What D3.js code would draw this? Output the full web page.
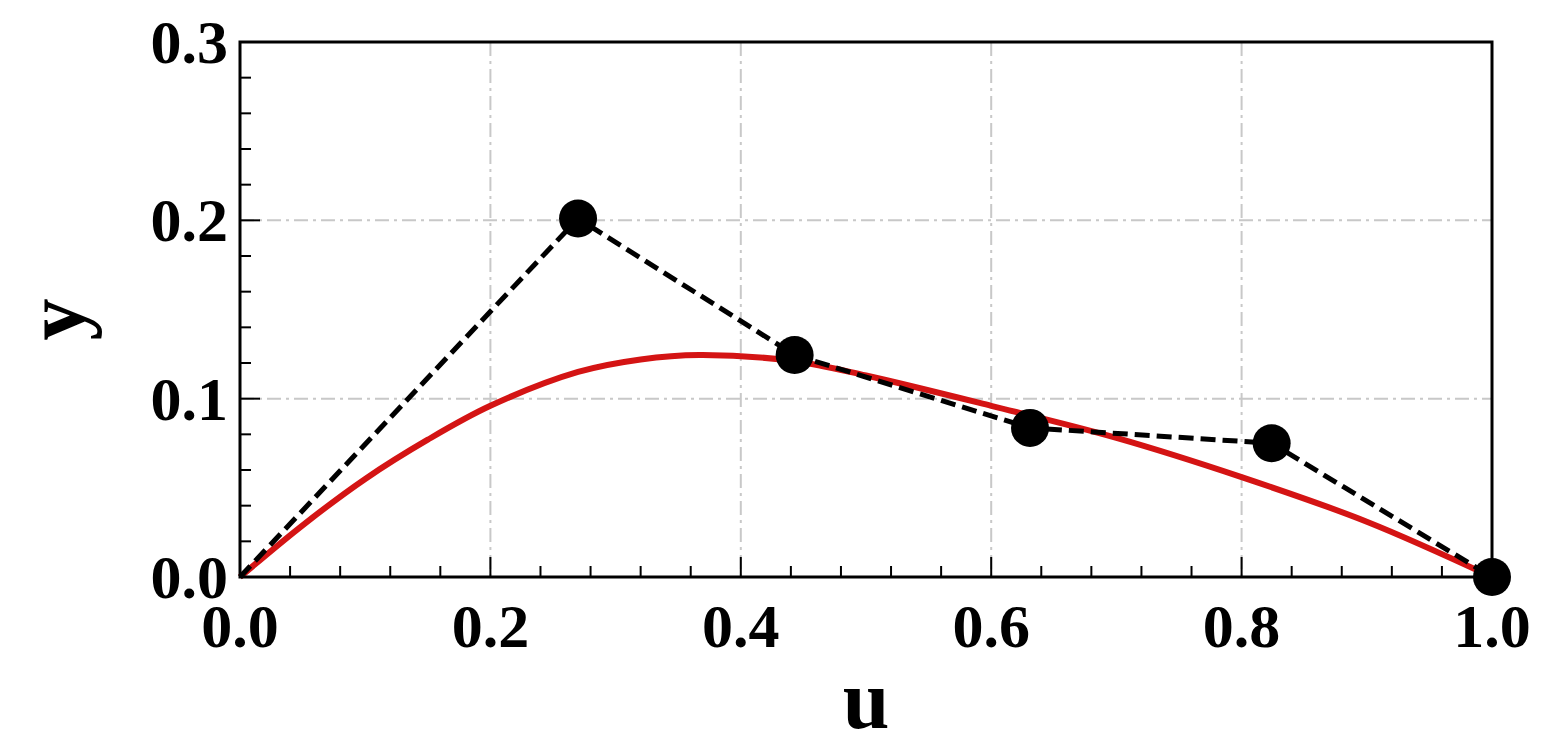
<!DOCTYPE html><html><head><script src="https://cdn.jsdelivr.net/npm/d3@7"></script>
<style>body{margin:0;background:#fff}</style></head><body><svg id="c" width="1550" height="750"></svg>
<script>
const ctrlU=[0,0.27,0.443,0.631,0.824,1.0];
const ctrlY=[0,0.201,0.1245,0.0836,0.075,0];
const markU=[0.27,0.443,0.631,0.824,1.0];
const markY=[0.201,0.1245,0.0836,0.075,0];
const curveU=[0,0.05,0.1,0.15,0.2,0.27,0.32,0.367,0.443,0.5,0.6,0.7,0.8,0.9,1.0];
const curveY=[0,0.029,0.055,0.077,0.096,0.115,0.122,0.1245,0.121,0.113,0.096,0.078,0.056,0.031,0];
const xTicks=[0,0.2,0.4,0.6,0.8,1.0];
const yTicks=[0,0.1,0.2,0.3];
const svg=d3.select("#c");
const L=240,R=1492,T=42,B=577;
const x=d3.scaleLinear([0,1],[L,R]), y=d3.scaleLinear([0,0.3],[B,T]);
const g=svg.append("g");
g.selectAll(".gx").data(xTicks.slice(1,-1)).join("line").attr("x1",x).attr("x2",x).attr("y1",T).attr("y2",B)
 .attr("stroke","#c8c8c8").attr("stroke-width",2).attr("stroke-dasharray","14,5,3,5");
g.selectAll(".gy").data(yTicks.slice(1,-1)).join("line").attr("y1",y).attr("y2",y).attr("x1",L).attr("x2",R)
 .attr("stroke","#c8c8c8").attr("stroke-width",2).attr("stroke-dasharray","14,5,3,5");
const minorX=d3.range(0,1.0001,0.04), minorY=d3.range(0,0.3001,0.02);
g.selectAll(".mx").data(minorX).join("line").attr("x1",x).attr("x2",x).attr("y1",B).attr("y2",d=>B-(Math.abs(d*5-Math.round(d*5))<1e-6?20:11)).attr("stroke","#000").attr("stroke-width",2);
g.selectAll(".my").data(minorY).join("line").attr("y1",y).attr("y2",y).attr("x1",L).attr("x2",d=>L+(Math.abs(d*10-Math.round(d*10))<1e-6?20:11)).attr("stroke","#000").attr("stroke-width",2);
const line=d3.line().x(d=>x(d[0])).y(d=>y(d[1]));
g.append("path").attr("d",d3.line().curve(d3.curveCatmullRom).x(d=>x(d[0])).y(d=>y(d[1]))(curveU.map((u,i)=>[u,curveY[i]])))
 .attr("fill","none").attr("stroke","#d41414").attr("stroke-width",6);
g.append("path").attr("d",line(ctrlU.map((u,i)=>[u,ctrlY[i]]))).attr("fill","none").attr("stroke","#000").attr("stroke-width",5).attr("stroke-dasharray","15,7");
g.selectAll("circle").data(markU).join("circle").attr("cx",x).attr("cy",(d,i)=>y(markY[i])).attr("r",19).attr("fill","#000");
g.append("rect").attr("x",L).attr("y",T).attr("width",R-L).attr("height",B-T).attr("fill","none").attr("stroke","#000").attr("stroke-width",3);
const f="'Liberation Serif',serif";
g.selectAll(".xl").data(xTicks).join("text").attr("x",x).attr("y",B+70).attr("text-anchor","middle").attr("font-family",f).attr("font-weight","bold").attr("font-size",62).text(d=>d.toFixed(1));
g.selectAll(".yl").data(yTicks).join("text").attr("x",L-12).attr("y",d=>y(d)+21).attr("text-anchor","end").attr("font-family",f).attr("font-weight","bold").attr("font-size",62).text(d=>d.toFixed(1));
svg.append("text").attr("x",(L+R)/2).attr("y",728).attr("text-anchor","middle").attr("font-family",f).attr("font-weight","bold").attr("font-size",84).text("u");
svg.append("text").attr("transform",`translate(84,${(T+B)/2+10}) rotate(-90)`).attr("text-anchor","middle").attr("font-family",f).attr("font-weight","bold").attr("font-size",84).text("y");
</script></body></html>
